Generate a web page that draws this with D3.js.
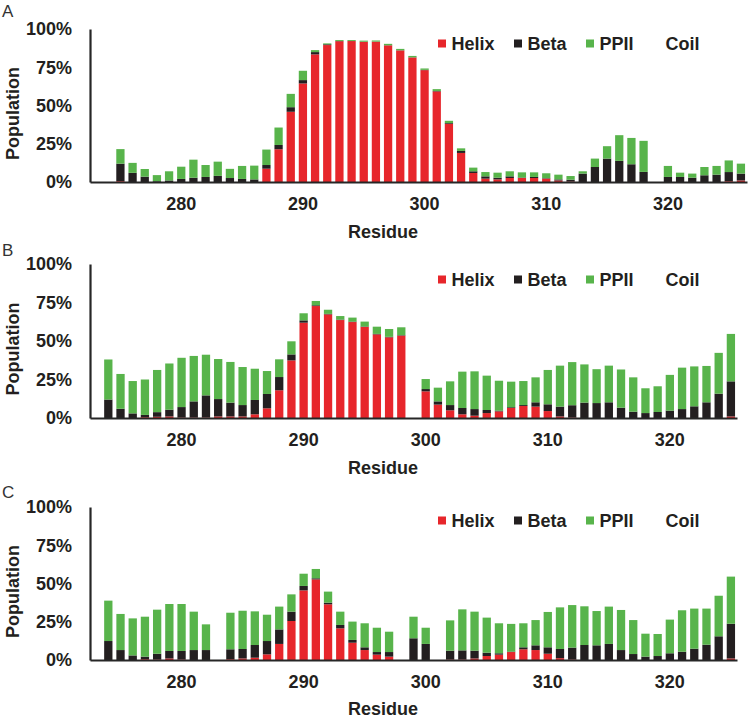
<!DOCTYPE html>
<html><head><meta charset="utf-8">
<script src="https://cdn.jsdelivr.net/npm/d3@7"></script>
<style>body{margin:0;background:#fff}svg{display:block}</style>
</head><body><svg id="c" width="750" height="718"></svg>
<script>
// ---- categories (residue numbers) ----
const residuesA = [273,274,275,276,277,278,279,280,281,282,283,284,285,286,287,288,289,290,291,292,293,294,295,296,297,298,299,300,301,302,303,304,305,306,307,308,309,310,311,312,313,314,315,316,317,318,319,320,321,322,323,324,325,326];
const residuesBC = [273,274,275,276,277,278,279,280,281,282,283,284,285,286,287,288,289,290,291,292,293,294,295,296,297,298,299,300,301,302,303,304,305,306,307,308,309,310,311,312,313,314,315,316,317,318,319,320,321,322,323,324,325];
const xTickLabels = [280,290,300,310,320];
const yTickLabels = [0,25,50,75,100];
const seriesNames = ["Helix","Beta","PPII","Coil"];

// ---- Panel A (%), null = no bar ----
const helixA = [null,null,0.5,0,0,0,0,0,0,0,0,0,0,0,8.7,21.4,45.9,64.4,83.4,89.5,92,92.1,91.6,91.7,89.3,86,81.4,73.1,59.2,38,19,5.9,2.2,1.7,2.6,2.6,2.6,2.2,1,0.3,0,0,0,0,0,0,null,0,0,0,0,0,0.5,1];
const betaA  = [null,null,11.5,6,3.5,0.5,1,2,2.8,3.3,4,2.6,2,1.7,2.4,2.8,3,2.2,1.5,0.5,0.2,0.1,0.1,0.1,0.1,0.1,0.1,0.2,0.3,0.5,1.3,1.1,1.5,1.1,1.1,0.3,0.7,0.3,0.7,1.2,5.5,9.8,15.3,13.8,11.6,6.6,null,3.3,3.3,2.8,4.4,4.8,6,4.5];
const ppiiA  = [null,null,9.5,6.5,5,4,6,8,11.8,7.8,9.3,6,8.5,9,10.1,11.4,8.7,6.1,1.3,0.6,0.6,0.6,0.7,0.7,0.9,0.9,0.9,0.9,1.2,1.5,1.7,2.4,2.8,3.3,3.3,3.4,3,3.2,3.1,2.4,1.5,5.5,8.1,16.8,17.2,20.3,null,7.2,2.8,2.7,5.4,5.7,7.6,6.5];

// ---- Panel B ----
const helixB = [null,0,0,0,0.5,0.8,1,0.3,0.3,0.3,1,1,1,2.4,6.3,18,37.4,61.9,72.7,67.3,63.6,62.3,59.1,54.3,52.4,53.5,null,17.3,8.7,5,2.4,1.5,3.2,4.3,6.5,7.8,7.4,4.5,1,0.3,0,0,0,0,0,0,0,0,0,0,0,0,1];
const betaB  = [null,12,6,3,1.5,3,4.4,6.8,10.5,14.4,11.3,9,7.4,9.3,9.3,8.6,3.9,1.5,0.5,0.3,0.3,0.3,0.3,0.3,0.3,0.3,null,1.5,2.1,3.4,4.1,4.3,2,0.5,0.5,0.6,2.8,4.4,6.4,8,10,9.7,10.2,6.7,4.1,3.2,3.9,4.8,5.8,7.6,10.2,15.8,22.8];
const ppiiB  = [null,26,22.6,21,23,27.4,30,32,29.5,26.4,26,26.4,24.7,20.3,14.9,11.5,8.5,4.6,2.8,2.7,2.3,2.6,3.2,4.7,5.1,5.1,null,6.5,8.9,15.4,23.6,24.5,22.3,19.4,16.6,15.6,16.2,22.3,26.6,28,24.8,22,23.8,24.8,22.3,16.1,16.7,23.2,26.9,25.9,23.6,26.5,30.8];

// ---- Panel C ----
const helixC = [null,0,0,0,0.5,0.3,1,0.3,0,0,null,0.5,1,1.5,3.7,10.5,25.5,45.5,52.7,36.4,20.7,11.3,6.5,3.5,2.2,null,0,0,null,0.3,0.3,1,2.6,3.5,5.2,7,6.5,4.1,1.2,0.3,0,0,0,0,0,0,0,0,0,0,0,0,1];
const betaC  = [null,12.4,6.5,3,1.7,3.8,4.9,5.6,6.5,6.5,null,6.5,6.2,8.3,8.7,9.5,6.1,2.9,0.7,1.1,2.2,1.8,1.8,1.7,3,null,14.2,10.5,null,5.8,6,5.1,2.2,0.9,0.3,1.3,3.1,4.2,6,7.8,9.8,9.6,10.5,6.5,3.9,2.2,2.6,4.4,5.4,7.4,10,15.5,22.7];
const ppiiC  = [null,26.4,23.6,24.2,26.1,28.8,30.7,30.7,25.1,16.8,null,23.9,25,22,17.2,14.9,11.3,8,6.1,7.2,8.7,12,15.7,15.9,13.3,null,14.1,10.6,null,19.8,26.8,25.5,22.9,19.6,18.1,15.7,16.5,23.1,27.2,27.8,25.3,22.4,24.4,26.2,22.2,15,14.4,22,27.1,26.2,23.6,26.5,30.8];

const colors = {Helix:"#E7262B", Beta:"#231F20", PPII:"#58B44B", Coil:"none"};
const FONT = "'Liberation Sans', Arial, sans-serif";
const TXT = "#231F20";

const panels = [
  {label:"A", cats:residuesA, helix:helixA, beta:betaA, ppii:ppiiA, top:29, bottom:182, xEnd:747, letterY:17, legendY:44, titleY:237.5},
  {label:"B", cats:residuesBC, helix:helixB, beta:betaB, ppii:ppiiB, top:264, bottom:418, xEnd:737, letterY:256, legendY:280, titleY:473.5},
  {label:"C", cats:residuesBC, helix:helixC, beta:betaC, ppii:ppiiC, top:507, bottom:660, xEnd:737, letterY:498, legendY:521, titleY:715}
];

const svg = d3.select("#c");
const xLeft = 90;

panels.forEach(p => {
  const g = svg.append("g");
  const rows = p.cats.map((r,i) => ({res:r, Helix:p.helix[i]||0, Beta:p.beta[i]||0, PPII:p.ppii[i]||0}));
  const x = d3.scaleBand().domain(p.cats).range([xLeft, p.xEnd]).paddingInner(0.32).paddingOuter(0.16);
  const y = d3.scaleLinear().domain([0,100]).range([p.bottom, p.top]);
  const stack = d3.stack().keys(["Helix","Beta","PPII"])(rows);

  g.selectAll("g.s").data(stack).join("g").attr("class","s")
    .attr("fill", d => colors[d.key])
    .selectAll("rect").data(d => d.filter(v => v[1] - v[0] > 0)).join("rect")
    .attr("x", d => x(d.data.res))
    .attr("width", x.bandwidth())
    .attr("y", d => y(d[1]))
    .attr("height", d => y(d[0]) - y(d[1]));

  // y axis
  const ya = g.append("g").attr("transform", `translate(${xLeft},0)`)
    .call(d3.axisLeft(y).tickValues(yTickLabels).tickFormat(d => d + "%").tickSize(0).tickPadding(18));
  ya.select(".domain").attr("stroke", "#262626").attr("stroke-width", 2.2);
  ya.selectAll("text").attr("font-family", FONT).attr("font-size", 18).attr("font-weight", "bold").attr("fill", TXT);

  // x axis
  const xa = g.append("g").attr("transform", `translate(0,${p.bottom})`)
    .call(d3.axisBottom(x).tickValues(xTickLabels).tickSize(0).tickSizeOuter(0).tickPadding(15));
  xa.select(".domain").attr("stroke", "#262626").attr("stroke-width", 2.2);
  xa.selectAll("text").attr("font-family", FONT).attr("font-size", 18).attr("font-weight", "bold").attr("fill", TXT);

  // titles
  g.append("text").attr("x", 383).attr("y", p.titleY).attr("text-anchor", "middle")
    .attr("font-family", FONT).attr("font-size", 18).attr("font-weight", "bold").attr("fill", TXT).text("Residue");
  const cy = (p.top + p.bottom) / 2 + 8;
  g.append("text").attr("transform", `translate(13,${cy}) rotate(-90)`).attr("text-anchor", "middle")
    .attr("dominant-baseline", "central")
    .attr("font-family", FONT).attr("font-size", 18).attr("font-weight", "bold").attr("fill", TXT).text("Population");
  g.append("text").attr("x", 2).attr("y", p.letterY)
    .attr("font-family", FONT).attr("font-size", 17).attr("fill", "#333").text(p.label);

  // legend
  const legX = [438, 514, 586, 652];
  const lg = g.append("g");
  seriesNames.forEach((s, i) => {
    lg.append("rect").attr("x", legX[i]).attr("y", p.legendY - 4.5).attr("width", 8).attr("height", 8)
      .attr("fill", colors[s]);
    lg.append("text").attr("x", legX[i] + 13.5).attr("y", p.legendY).attr("dominant-baseline", "central")
      .attr("font-family", FONT).attr("font-size", 18).attr("font-weight", "bold").attr("fill", TXT).text(s);
  });
});
</script>
</body></html>
